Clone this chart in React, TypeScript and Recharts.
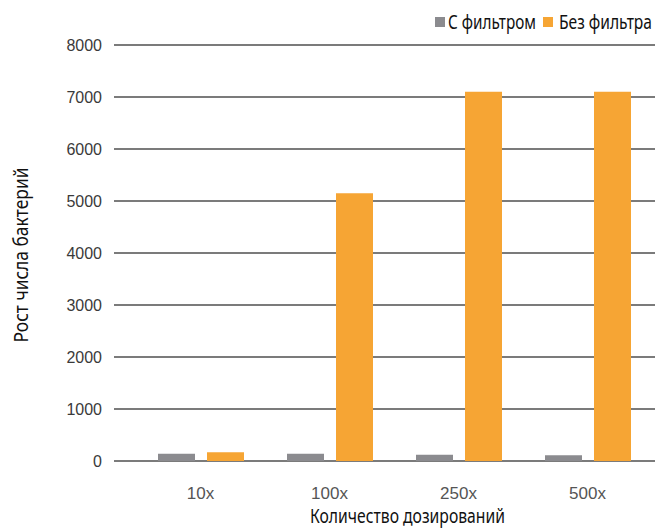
import React from 'react';
import { BarChart, Bar, XAxis, YAxis, CartesianGrid } from 'recharts';

const categories = ['10x', '100x', '250x', '500x'];
const withFilter = [140, 140, 120, 110];
const withoutFilter = [170, 5150, 7100, 7100];
const yTicks = [0, 1000, 2000, 3000, 4000, 5000, 6000, 7000, 8000];

const seriesNames = ['С фильтром', 'Без фильтра'];
const colors = ['#8b8b8f', '#f6a534'];
const xTitle = 'Количество дозирований';
const yTitle = 'Рост числа бактерий';

const data = categories.map((c, i) => ({ name: c, a: withFilter[i], b: withoutFilter[i] }));

const titleFont = '"Noto Sans", "DejaVu Sans", sans-serif';
const tickFont = '"Liberation Sans", Arial, sans-serif';

const LegendOverlay = () => (
  <svg width={662} height={40} style={{ position: 'absolute', left: 0, top: 0 }}>
    <rect x={435} y={17} width={10} height={10} fill={colors[0]} />
    <g transform="translate(448 29) scale(1 1.25)">
      <text x={0} y={0} fontFamily={titleFont} fontSize={16} fill="#111" textLength={88} lengthAdjust="spacingAndGlyphs">
        {seriesNames[0]}
      </text>
    </g>
    <rect x={543} y={17} width={10} height={10} fill={colors[1]} />
    <g transform="translate(559 29) scale(1 1.25)">
      <text x={0} y={0} fontFamily={titleFont} fontSize={16} fill="#111" textLength={93} lengthAdjust="spacingAndGlyphs">
        {seriesNames[1]}
      </text>
    </g>
  </svg>
);

export default function App() {
  return (
    <div style={{ position: 'absolute', left: 0, top: 0, width: 662, height: 528, background: '#fff' }}>
      <BarChart
        width={662}
        height={528}
        data={data}
        margin={{ top: 45, right: 7, bottom: 0, left: 0 }}
        barGap={12}
        barSize={37}
      >
        <CartesianGrid vertical={false} stroke="#7b7b7b" strokeWidth={2} />
        <XAxis
          dataKey="name"
          height={67}
          axisLine={false}
          tickLine={false}
          tickMargin={20}
          padding={{ left: 22, right: 3 }}
          tick={{ fill: '#555', fontSize: 17, fontFamily: tickFont }}
          label={{
            value: xTitle,
            content: () => (
              <text
                x={310}
                y={523}
                fontFamily={titleFont}
                fontSize={20}
                fill="#111"
                textLength={195}
                lengthAdjust="spacingAndGlyphs"
              >
                {xTitle}
              </text>
            ),
          }}
        />
        <YAxis
          width={114}
          domain={[0, 8000]}
          ticks={yTicks}
          axisLine={false}
          tickLine={false}
          tickMargin={6}
          tick={{ fill: '#3a3a3a', fontSize: 16, fontFamily: tickFont }}
          label={{
            value: yTitle,
            content: () => (
              <text
                x={28}
                y={255}
                textAnchor="middle"
                transform="rotate(-90 28 255)"
                fontFamily={titleFont}
                fontSize={20}
                fill="#111"
                textLength={175}
                lengthAdjust="spacingAndGlyphs"
              >
                {yTitle}
              </text>
            ),
          }}
        />
        <Bar dataKey="a" name={seriesNames[0]} fill={colors[0]} isAnimationActive={false} />
        <Bar dataKey="b" name={seriesNames[1]} fill={colors[1]} isAnimationActive={false} />
      </BarChart>
      <LegendOverlay />
    </div>
  );
}
